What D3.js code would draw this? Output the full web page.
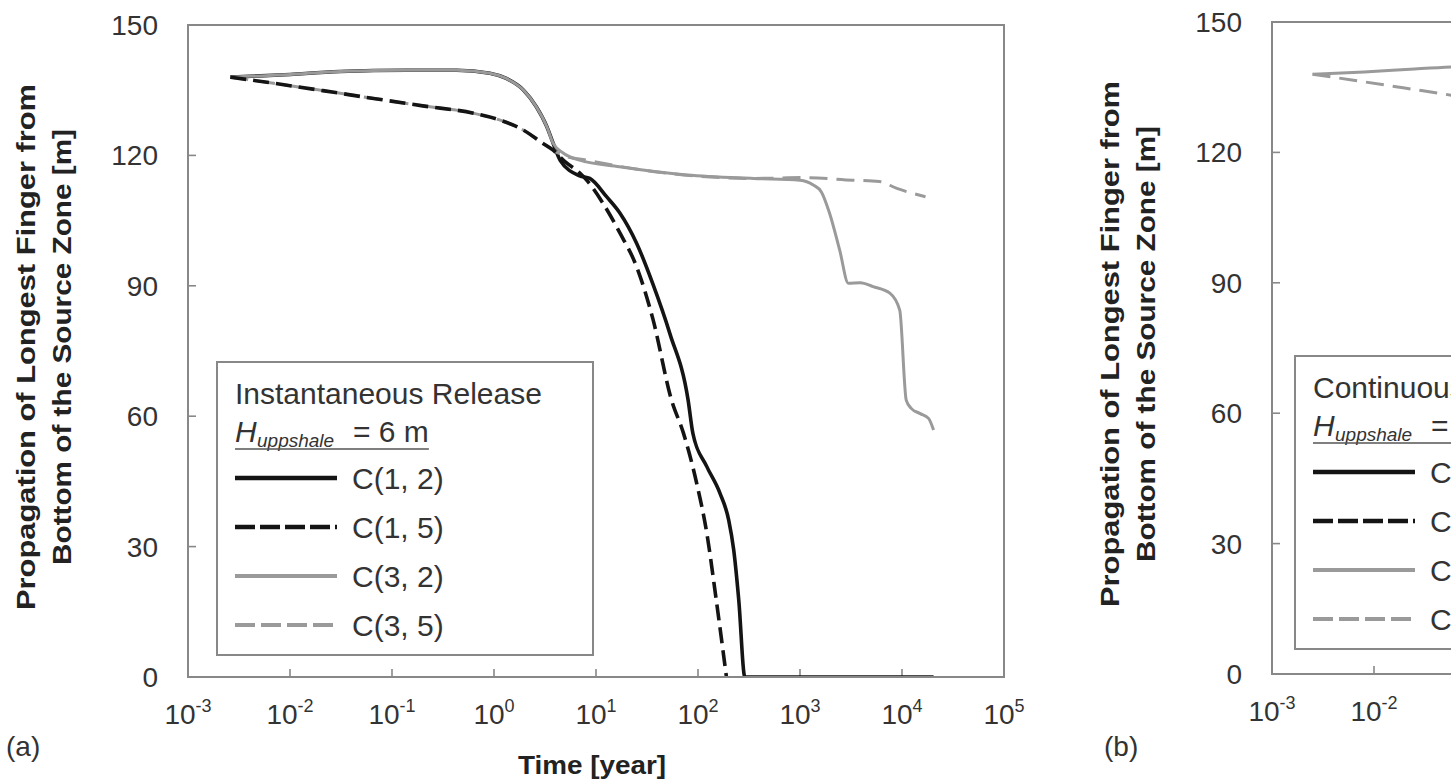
<!DOCTYPE html>
<html>
<head>
<meta charset="utf-8">
<script src="https://cdn.jsdelivr.net/npm/d3@7"></script>
<style>
  html, body { margin: 0; padding: 0; background: #fff; overflow: hidden; }
  svg { display: block; }
</style>
</head>
<body>
<svg id="chart" width="1451" height="782"></svg>
<script>
// ---- Axis ticks ----------------------------------------------------------
const xTicks = [1e-3, 1e-2, 1e-1, 1e0, 1e1, 1e2, 1e3, 1e4, 1e5];
const xTickExponents = ["-3", "-2", "-1", "0", "1", "2", "3", "4", "5"];
const yTicks = [0, 30, 60, 90, 120, 150];

// ---- Series labels -------------------------------------------------------
const seriesNames = ["C(1, 2)", "C(1, 5)", "C(3, 2)", "C(3, 5)"];

// ---- (a) Instantaneous release: [time in years, propagation in m] ---------
const instC12 = [
  [0.0026, 138.0], [0.0079, 138.5], [0.031, 139.3], [0.14, 139.6], [0.43, 139.6],
  [0.91, 138.9], [1.32, 137.7], [1.95, 135.0], [2.6, 131.2], [3.3, 126.6],
  [3.8, 122.8], [4.45, 118.9], [6.9, 115.3], [8.7, 114.7], [12.7, 110.5],
  [17.2, 106.7], [25, 99.8], [36, 90.5], [53, 79.0], [80, 63.7], [89, 56.1],
  [122, 48.4], [164, 42.3], [200, 36.1], [224, 29.2], [251, 17.7], [288, 0],
  [20400, 0]
];
const instC15 = [
  [0.0026, 138.0], [0.0069, 136.6], [0.021, 134.9], [0.066, 133.1], [0.2, 131.4],
  [0.63, 129.7], [1.15, 128.1], [1.95, 125.8], [3.0, 122.8], [3.8, 121.2],
  [5.0, 118.5], [6.9, 116.0], [8.1, 114.3], [11.7, 109.0], [17.2, 102.1],
  [25, 94.4], [36, 82.5], [55, 63.7], [72, 56.1], [97, 44.6], [122, 33.1],
  [151, 17.7], [190, 0]
];
const instC32 = [
  [0.0026, 138.0], [0.0079, 138.5], [0.031, 139.3], [0.14, 139.6], [0.43, 139.6],
  [0.91, 138.9], [1.32, 137.7], [1.95, 135.0], [2.6, 131.2], [3.3, 126.6],
  [3.8, 122.8], [4.8, 120.5], [6.9, 118.9], [17, 117.4], [78, 115.5],
  [350, 114.7], [1000, 114.3], [1350, 113.2], [1620, 111.6], [1950, 106.7],
  [2450, 98.2], [2980, 90.6], [3900, 90.7], [5200, 89.8], [7600, 88.3],
  [9500, 84.4], [11000, 63.7], [12300, 61.8], [15100, 60.6], [18200, 59.5],
  [20400, 56.8]
];
const instC35 = [
  [0.0026, 138.0], [0.0069, 136.6], [0.021, 134.9], [0.066, 133.1], [0.2, 131.4],
  [0.63, 129.7], [1.15, 128.1], [1.95, 125.8], [3.0, 122.8], [3.8, 121.2],
  [4.8, 120.0], [8.1, 118.9], [36, 116.3], [350, 114.7], [1070, 114.9],
  [3300, 114.3], [6000, 114.0], [8900, 112.4], [17000, 110.5]
];

// ---- (b) Continuous release: [time in years, propagation in m] ------------
const contC32 = [
  [0.0025, 138.0], [0.008, 138.5], [0.025, 139.2], [0.063, 139.7], [0.08, 139.8]
];
const contC35 = [
  [0.0025, 138.0], [0.0063, 136.6], [0.02, 134.8], [0.063, 133.0], [0.08, 132.6]
];

// ---- Styling --------------------------------------------------------------
const W = 1451;
const BLACK = "#141414";
const GRAY = "#9a9a9a";
const TEXT = "#333333";
const FRAME = "#888888";
const styles = [
  { color: BLACK, width: 3.6, dash: null,   legendDash: null },
  { color: BLACK, width: 3.6, dash: "16,7", legendDash: "20,5" },
  { color: GRAY,  width: 3.0, dash: null,   legendDash: null },
  { color: GRAY,  width: 3.0, dash: "18,9", legendDash: "20,6" }
];
const tickFont = "28px 'Liberation Sans', Arial, sans-serif";
const legendFont = "30px 'Liberation Sans', Arial, sans-serif";
const titleFont = "bold 26px 'Liberation Sans Narrow', 'Arial Narrow', 'Liberation Sans', sans-serif";

const svg = d3.select("#chart");
svg.append("rect").attr("width", W).attr("height", 782).attr("fill", "#fff");

function drawPanel(p) {
  const x = d3.scaleLog().domain([1e-3, 1e5]).range([p.left, p.right]);
  const y = d3.scaleLinear().domain([0, 150]).range([p.bottom, p.top]);
  const g = svg.append("g");
  const onScreen = v => x(v) < W + 30;

  const clipId = "clip-" + p.id;
  svg.append("clipPath").attr("id", clipId)
    .append("rect").attr("x", p.left).attr("y", p.top)
    .attr("width", p.right - p.left).attr("height", p.bottom - p.top);

  // inward tick marks
  g.selectAll(".xt").data(xTicks.slice(1, -1).filter(onScreen)).join("line")
    .attr("x1", d => x(d)).attr("x2", d => x(d))
    .attr("y1", p.bottom).attr("y2", p.bottom - 8)
    .attr("stroke", FRAME).attr("stroke-width", 1.6);
  g.selectAll(".yt").data(yTicks.slice(1, -1)).join("line")
    .attr("x1", p.left).attr("x2", p.left + 8)
    .attr("y1", d => y(d)).attr("y2", d => y(d))
    .attr("stroke", FRAME).attr("stroke-width", 1.6);

  // series
  const line = d3.line().x(d => x(d[0])).y(d => y(d[1])).curve(d3.curveMonotoneX);
  const lines = g.append("g").attr("clip-path", `url(#${clipId})`);
  p.order.forEach(i => {
    if (!p.series[i]) return;
    const s = styles[i];
    lines.append("path").datum(p.series[i])
      .attr("d", line).attr("fill", "none")
      .attr("stroke", s.color).attr("stroke-width", s.width)
      .attr("stroke-linejoin", "round")
      .attr("stroke-dasharray", s.dash);
  });

  // frame
  g.append("rect").attr("x", p.left).attr("y", p.top)
    .attr("width", p.right - p.left).attr("height", p.bottom - p.top)
    .attr("fill", "none").attr("stroke", FRAME).attr("stroke-width", 2);

  // y tick labels
  g.selectAll(".yl").data(yTicks).join("text")
    .attr("x", p.left - 30).attr("y", d => y(d) + 10)
    .attr("text-anchor", "end").attr("fill", TEXT)
    .style("font", tickFont)
    .text(d => d);

  // x tick labels (powers of ten)
  const xl = g.selectAll(".xl").data(xTicks.filter(onScreen)).join("text")
    .attr("x", d => x(d)).attr("y", p.bottom + 47)
    .attr("text-anchor", "middle").attr("fill", TEXT)
    .style("font", tickFont);
  xl.append("tspan").text("10");
  xl.append("tspan").attr("dy", -12).style("font-size", "18px")
    .text(d => xTickExponents[xTicks.indexOf(d)]);

  // y-axis title
  const cy = (p.top + p.bottom) / 2;
  [["Propagation of Longest Finger from", p.left - 153, 526],
   ["Bottom of the Source Zone [m]", p.left - 117, 436]].forEach(([t, bx, len]) => {
    g.append("text")
      .attr("transform", `translate(${bx},${cy - 4}) rotate(-90)`)
      .attr("text-anchor", "middle").attr("fill", "#222")
      .attr("textLength", len).attr("lengthAdjust", "spacingAndGlyphs")
      .style("font", titleFont).text(t);
  });

  // panel tag
  g.append("text").attr("x", p.tagX).attr("y", p.tagY)
    .attr("fill", TEXT).style("font", tickFont)
    .text(p.tag);

  // legend
  const L = p.legend;
  g.append("rect").attr("x", L.x).attr("y", L.y).attr("width", L.w).attr("height", L.h)
    .attr("fill", "#fff").attr("stroke", FRAME).attr("stroke-width", 2);
  g.append("text").attr("x", L.x + 18).attr("y", L.y + 42)
    .attr("fill", TEXT).style("font", legendFont).text(L.title);

  // H_uppshale = 6 m, underlined
  const hy = L.y + 80;
  g.append("text").attr("x", L.x + 18).attr("y", hy)
    .attr("fill", TEXT).style("font", legendFont).style("font-style", "italic")
    .text("H");
  g.append("text").attr("x", L.x + 40).attr("y", hy + 5)
    .attr("fill", TEXT).style("font", "italic 19px 'Liberation Sans', Arial, sans-serif")
    .text("uppshale");
  const eq = g.append("text").attr("x", L.x + 136).attr("y", hy)
    .attr("fill", TEXT).style("font", legendFont).text("= 6 m");
  const eqEnd = L.x + 136 + eq.node().getComputedTextLength();
  g.append("line").attr("x1", L.x + 18).attr("x2", eqEnd)
    .attr("y1", hy + 7).attr("y2", hy + 7)
    .attr("stroke", "#555").attr("stroke-width", 1.5);

  seriesNames.forEach((name, i) => {
    const ry = L.y + 116 + i * 49;
    const s = styles[i];
    g.append("line").attr("x1", L.x + 18).attr("x2", L.x + 120)
      .attr("y1", ry).attr("y2", ry)
      .attr("stroke", s.color).attr("stroke-width", s.width + 1)
      .attr("stroke-dasharray", s.legendDash);
    g.append("text").attr("x", L.x + 135).attr("y", ry + 11)
      .attr("fill", TEXT).style("font", legendFont).text(name);
  });

  // x-axis title
  const tx = (p.left + p.right) / 2 - 4;
  if (p.xTitle && tx < W) {
    g.append("text").attr("x", tx).attr("y", p.bottom + 97)
      .attr("text-anchor", "middle").attr("fill", "#222")
      .attr("textLength", 148).attr("lengthAdjust", "spacingAndGlyphs")
      .style("font", titleFont).text(p.xTitle);
  }
}

drawPanel({
  id: "a", tag: "(a)", tagX: 6, tagY: 756,
  left: 188, right: 1004, top: 25, bottom: 677,
  series: [instC12, instC15, instC32, instC35],
  order: [0, 2, 3, 1],
  legend: { x: 217, y: 362, w: 376, h: 293, title: "Instantaneous Release" },
  xTitle: "Time [year]"
});

drawPanel({
  id: "b", tag: "(b)", tagX: 1104, tagY: 756,
  left: 1272, right: 2088, top: 22, bottom: 674,
  series: [null, null, contC32, contC35],
  order: [2, 3],
  legend: { x: 1295, y: 356, w: 376, h: 293, title: "Continuous Release" },
  xTitle: "Time [year]"
});
</script>
</body>
</html>
